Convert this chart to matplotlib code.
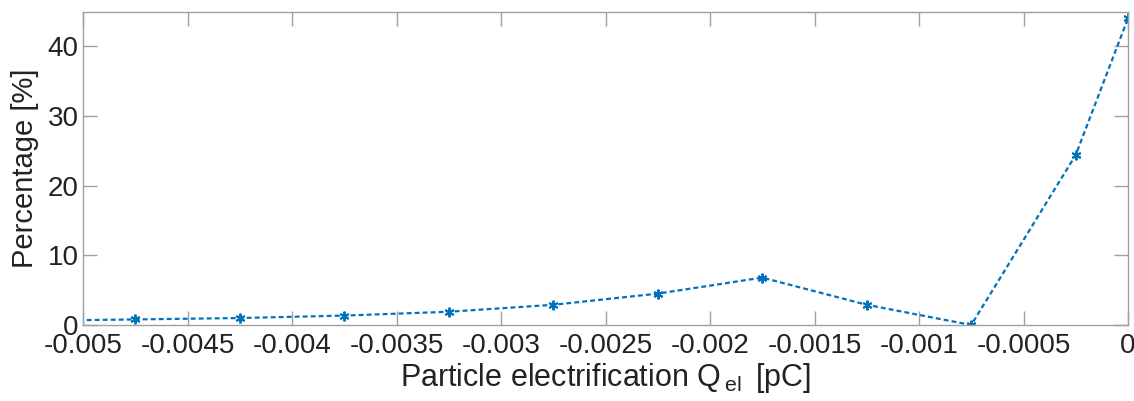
import matplotlib
matplotlib.use("Agg")
import matplotlib.pyplot as plt

# charge bins [pC] and percentage of particles
charge_pc = [-0.00525, -0.00475, -0.00425, -0.00375, -0.00325, -0.00275, -0.00225,
             -0.00175, -0.00125, -0.00075, -0.00025, 0.0]
percentage = [0.6, 0.8, 1.0, 1.35, 1.9, 2.9, 4.5, 6.8, 2.9, 0.0, 24.4, 44.0]
x_ticks = [-0.005, -0.0045, -0.004, -0.0035, -0.003, -0.0025, -0.002,
           -0.0015, -0.001, -0.0005, 0]
x_tick_labels = ["-0.005", "-0.0045", "-0.004", "-0.0035", "-0.003", "-0.0025", "-0.002",
                 "-0.0015", "-0.001", "-0.0005", "0"]
y_ticks = [0, 10, 20, 30, 40]

plt.rcParams["font.family"] = ["Liberation Sans", "DejaVu Sans"]
plt.rcParams["mathtext.fontset"] = "custom"
plt.rcParams["mathtext.rm"] = "Liberation Sans"

fig = plt.figure(figsize=(11.34, 4.01), dpi=100)
ax = fig.add_axes([83 / 1134, 1 - 325 / 401, (1128 - 83) / 1134, (325 - 12) / 401])

ax.plot(charge_pc, percentage, linestyle=(0, (2.2, 1.4)), color="#0072BD", linewidth=1.6,
        marker=(6, 2, 0), markersize=7, markeredgewidth=1.4, clip_on=True)

ax.set_xlim(-0.005, 0)
ax.set_ylim(0, 44.9)
ax.set_xticks(x_ticks)
ax.set_xticklabels(x_tick_labels)
ax.set_yticks(y_ticks)

for side in ["top", "bottom", "left", "right"]:
    ax.spines[side].set_color("#a0a0a0")
    ax.spines[side].set_linewidth(1.0)
ax.tick_params(direction="in", length=10, width=1.0, color="#a0a0a0",
               top=True, right=True, labelsize=20, labelcolor="#222222")
ax.tick_params(axis="x", pad=6)
ax.tick_params(axis="y", pad=3)

ax.set_xlabel(r"Particle electrification Q$_{\,\mathregular{el}}\,$ [pC]", fontsize=22,
              color="#222222", labelpad=1)
ax.set_ylabel("Percentage [%]", fontsize=21, color="#222222", labelpad=6)

fig.savefig("out.png", dpi=100)
